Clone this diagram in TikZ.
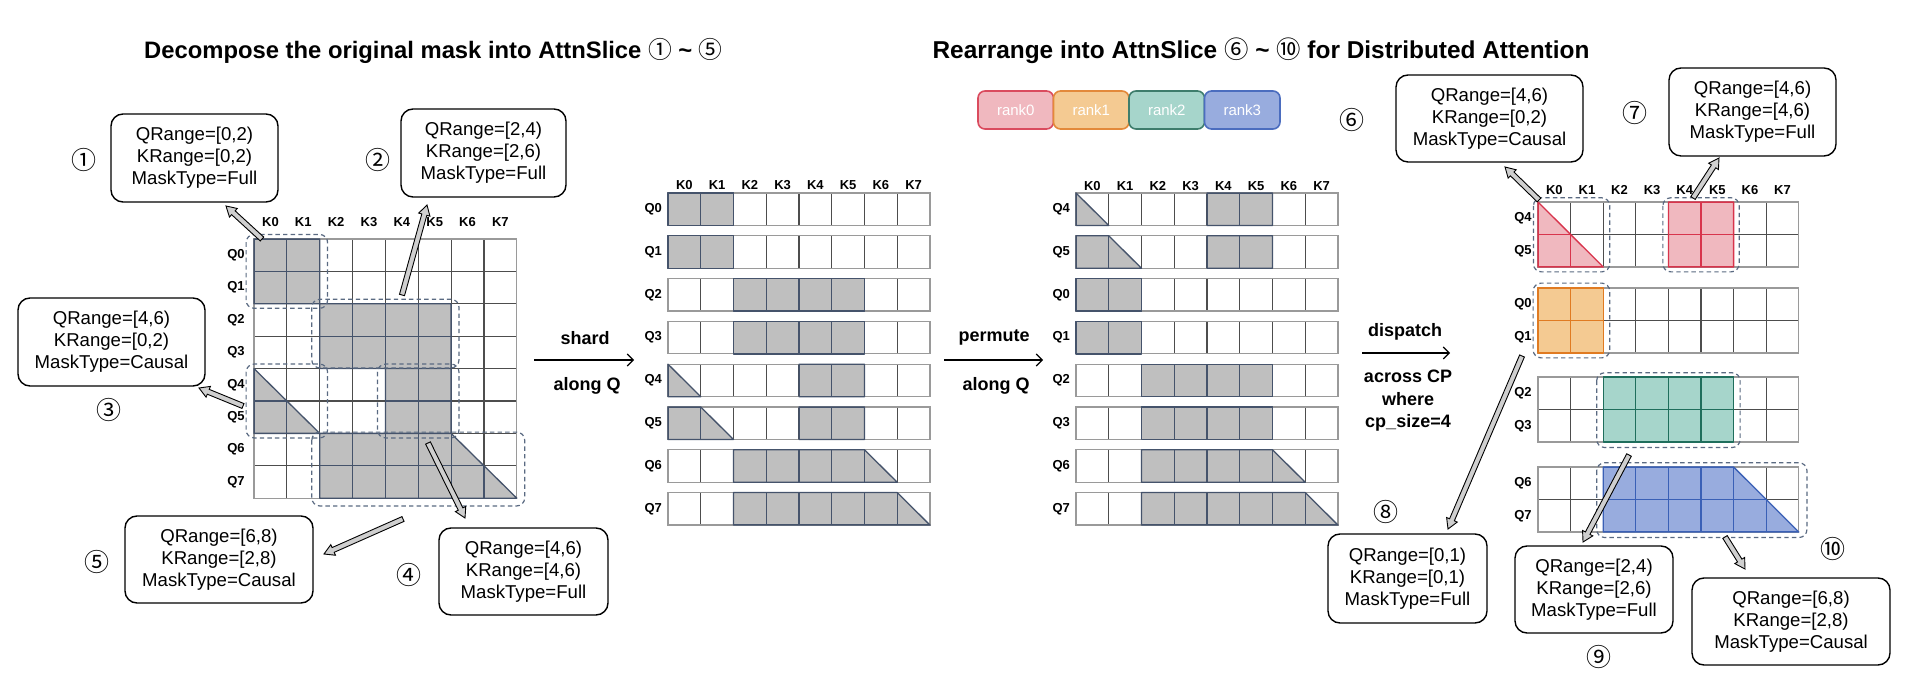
\documentclass[tikz,border=0pt]{standalone}
\usepackage{fontspec}
\setmainfont{Liberation Sans}
\newfontfamily\circfont{Noto Sans CJK SC}
\usetikzlibrary{calc,arrows.meta}

\definecolor{cellgray}{HTML}{BFBFBF}
\definecolor{slate}{HTML}{45536B}
\definecolor{gline}{HTML}{4D4D4D}
\definecolor{gout}{HTML}{9A9A9A}
\definecolor{dashc}{HTML}{5A6A82}
\definecolor{arrf}{HTML}{CFCFCF}
\definecolor{r0f}{HTML}{F0B8BF}\definecolor{r0l}{HTML}{D8344C}\definecolor{r0b}{HTML}{DA4B5E}
\definecolor{r1f}{HTML}{F4CA92}\definecolor{r1l}{HTML}{E07B22}\definecolor{r1b}{HTML}{E3893A}
\definecolor{r2f}{HTML}{A6D5CB}\definecolor{r2l}{HTML}{1F6E5C}\definecolor{r2b}{HTML}{3E7D6C}
\definecolor{r3f}{HTML}{98ACDE}\definecolor{r3l}{HTML}{3A60B6}\definecolor{r3b}{HTML}{4B6DBF}

\tikzset{
  info/.style={draw=black, line width=0.7pt, rounded corners=6pt, align=center, inner sep=0pt, font=\fontsize{9.3}{11}\selectfont},
  circnum/.style={inner sep=0pt, font=\circfont\fontsize{12.5}{14}\selectfont},
  axlab/.style={inner sep=0pt, font=\bfseries\fontsize{6.5}{7}\selectfont},
  ttl/.style={inner sep=0pt, font=\bfseries\fontsize{12.2}{14}\selectfont},
  optxt/.style={inner sep=0pt, align=center, font=\bfseries\fontsize{9}{11.25}\selectfont},
  innerline/.style={draw=gline, line width=0.55pt},
  outerline/.style={draw=gout, line width=0.6pt},
  slicebox/.style={draw=dashc, line width=0.6pt, dash pattern=on 2.2pt off 1.6pt, rounded corners=4pt},
  fatarrow/.style={draw=black, fill=arrf, line width=0.45pt, line join=miter},
  oparrow/.style={draw=black, line width=0.55pt, -{Straight Barb[length=3pt,width=6pt]}},
  rankbox/.style 2 args={fill=#1, draw=#2, line width=0.8pt, rounded corners=3.5pt, minimum width=37.75pt, minimum height=19pt, inner sep=0pt, text=white, font=\fontsize{7.5}{9}\selectfont},
}

% fill a masked region (cell units) and recolour the grid lines inside it
\newcommand\maskfill[5]{%
  \fill[#1] #5;
  \begin{scope}
    \clip #5;
    \foreach \i in {0,...,#3} \draw[draw=#2, line width=0.6pt] (\i,0) -- (\i,#4);
    \foreach \j in {0,...,#4} \draw[draw=#2, line width=0.6pt] (0,\j) -- (#3,\j);
  \end{scope}
  \draw[draw=#2, line width=0.65pt, line join=round] #5;
}

% hollow fat arrow from #1 to #2
\newcommand\fatarr[2]{%
  \coordinate (fa-h) at ($(#2)!5pt!(#1)$);
  \filldraw[fatarrow] ($(#1)!1.3pt!90:(#2)$) -- ($(fa-h)!1.3pt!-90:(#1)$) -- ($(fa-h)!2.9pt!-90:(#1)$) -- (#2) -- ($(fa-h)!2.9pt!90:(#1)$) -- ($(fa-h)!1.3pt!90:(#1)$) -- ($(#1)!1.3pt!-90:(#2)$) -- cycle;
}

% one row of the sharded mask
\newcommand\midrow[5]{%
  \begin{scope}[shift={(#1,#2)}, x=16.375pt, y=-16.25pt]
    \fill[white] (0,0) rectangle (8,1);
    \foreach \i in {1,...,7} \draw[innerline] (\i,0) -- (\i,1);
    \draw[outerline] (0,0) rectangle (8,1);
    \maskfill{cellgray}{slate}{8}{1}{#5}
    \node[axlab] (#3) at (-0.45,0.5) {#4};
  \end{scope}}

% two-row group of one rank
\newcommand\rankgroup[8]{%
  \begin{scope}[shift={(1538,#1)}, x=16.3pt, y=-16.25pt]
    \fill[white] (0,0) rectangle (8,2);
    \foreach \i in {1,...,7} \draw[innerline] (\i,0) -- (\i,2);
    \draw[innerline] (0,1) -- (8,1);
    \draw[outerline] (0,0) rectangle (8,2);
    \maskfill{#5}{#6}{8}{2}{#7}
    \node[axlab] (#2a) at (-0.46,0.5) {#3};
    \node[axlab] (#2b) at (-0.46,1.5) {#4};
    #8
  \end{scope}}

\def\rqA{(0,0) rectangle (2,1)}
\def\rqB{(2,0) rectangle (6,1)}
\def\rqC{(0,0) -- (1,1) -- (0,1) -- cycle (4,0) rectangle (6,1)}
\def\rqD{(0,0) -- (1,0) -- (2,1) -- (0,1) -- cycle (4,0) rectangle (6,1)}
\def\rqE{(2,0) -- (6,0) -- (7,1) -- (2,1) -- cycle}
\def\rqF{(2,0) -- (7,0) -- (8,1) -- (2,1) -- cycle}

\begin{document}
\begin{tikzpicture}[x=0.5pt, y=-0.5pt]
\useasboundingbox (0,0) rectangle (1920,688);
\fill[white] (0,0) rectangle (1920,688);

% titles
\node[ttl, font=\bfseries\fontsize{11.9}{14}\selectfont] (t1) at (433.5,51) {Decompose the original mask into AttnSlice {\circfont\mdseries ①} \textasciitilde{} {\circfont\mdseries ⑤}};
\node[ttl] (t2) at (1261,51) {Rearrange into AttnSlice {\circfont\mdseries ⑥} \textasciitilde{} {\circfont\mdseries ⑩} for Distributed Attention};

% ---------------- left: original mask ----------------
\begin{scope}[shift={(254,239)}, x=16.425pt, y=-16.2pt]
  \fill[white] (0,0) rectangle (8,8);
  \foreach \i in {1,...,7} {\draw[innerline] (\i,0) -- (\i,8); \draw[innerline] (0,\i) -- (8,\i);}
  \draw[outerline] (0,0) rectangle (8,8);
  \maskfill{cellgray}{slate}{8}{8}{(0,0) rectangle (2,2) (2,2) rectangle (6,4) (0,4) -- (2,6) -- (0,6) -- cycle (4,4) rectangle (6,6) (2,6) -- (6,6) -- (8,8) -- (2,8) -- cycle}
  \foreach \i in {0,...,7} {
    \node[axlab] (LK\i) at (\i+0.5,-0.52) {K\i};
    \node[axlab] (LQ\i) at (-0.55,\i+0.5) {Q\i};
  }
  \draw[slicebox] (-0.24,-0.14) rectangle (2.24,2.14);
  \draw[slicebox] (1.76,1.86) rectangle (6.24,3.98);
  \draw[slicebox] (-0.24,3.86) rectangle (2.24,6.14);
  \draw[slicebox] (3.76,3.86) rectangle (6.24,6.14);
  \draw[slicebox] (1.76,5.96) rectangle (8.24,8.24);
\end{scope}

\node[info, minimum width=83.5pt, minimum height=44pt] (b1) at (194.5,158) {QRange=[0,2)\\KRange=[0,2)\\MaskType=Full};
\node[info, minimum width=82.5pt, minimum height=44pt] (b2) at (483.5,153) {QRange=[2,4)\\KRange=[2,6)\\MaskType=Full};
\node[info, minimum width=93.5pt, minimum height=44pt] (b3) at (111.5,342) {QRange=[4,6)\\KRange=[0,2)\\MaskType=Causal};
\node[info, minimum width=84.5pt, minimum height=43.5pt] (b4) at (523.5,571.5) {QRange=[4,6)\\KRange=[4,6)\\MaskType=Full};
\node[info, minimum width=94pt, minimum height=43.5pt] (b5) at (219,559.5) {QRange=[6,8)\\KRange=[2,8)\\MaskType=Causal};

\node[circnum] (n1) at (84,160) {①};
\node[circnum] (n2) at (378,160) {②};
\node[circnum] (n3) at (109,410) {③};
\node[circnum] (n4) at (409,575) {④};
\node[circnum] (n5) at (97,562) {⑤};

\coordinate (a1s) at (262,239); \coordinate (a1e) at (226,206);
\coordinate (a2s) at (402,295); \coordinate (a2e) at (427,205);
\coordinate (a3s) at (243,406); \coordinate (a3e) at (199,388);
\coordinate (a4s) at (428,443); \coordinate (a4e) at (465,518);
\coordinate (a5s) at (403,519); \coordinate (a5e) at (324,554);
\fatarr{a1s}{a1e}
\fatarr{a2s}{a2e}
\fatarr{a3s}{a3e}
\fatarr{a4s}{a4e}
\fatarr{a5s}{a5e}

% ---------------- shard ----------------
\coordinate (sh1) at (534,360); \coordinate (sh2) at (634,360);
\draw[oparrow] (sh1) -- (sh2);
\node[optxt] (shT) at (585,338) {shard};
\node[optxt] (shB) at (587,386) {along Q};

\foreach \i in {0,...,7} \node[axlab] (mak\i) at ({668+32.75*(\i+0.5)},185) {K\i};
\midrow{668}{193}{ma0}{Q0}{\rqA}
\midrow{668}{235.8}{ma1}{Q1}{\rqA}
\midrow{668}{278.6}{ma2}{Q2}{\rqB}
\midrow{668}{321.4}{ma3}{Q3}{\rqB}
\midrow{668}{364.2}{ma4}{Q4}{\rqC}
\midrow{668}{407}{ma5}{Q5}{\rqD}
\midrow{668}{449.8}{ma6}{Q6}{\rqE}
\midrow{668}{492.6}{ma7}{Q7}{\rqF}

% ---------------- permute ----------------
\coordinate (pm1) at (944,360); \coordinate (pm2) at (1043,360);
\draw[oparrow] (pm1) -- (pm2);
\node[optxt] (pmT) at (994,338) {permute};
\node[optxt] (pmB) at (996,386) {along Q};

\foreach \i in {0,...,7} \node[axlab] (mbk\i) at ({1076+32.75*(\i+0.5)},186) {K\i};
\midrow{1076}{193}{mb0}{Q4}{\rqC}
\midrow{1076}{235.8}{mb1}{Q5}{\rqD}
\midrow{1076}{278.6}{mb2}{Q0}{\rqA}
\midrow{1076}{321.4}{mb3}{Q1}{\rqA}
\midrow{1076}{364.2}{mb4}{Q2}{\rqB}
\midrow{1076}{407}{mb5}{Q3}{\rqB}
\midrow{1076}{449.8}{mb6}{Q6}{\rqE}
\midrow{1076}{492.6}{mb7}{Q7}{\rqF}

% ---------------- rank legend ----------------
\node[rankbox={r0f}{r0b}] (rank0) at (1015.75,110) {rank0};
\node[rankbox={r1f}{r1b}] (rank1) at (1091.25,110) {rank1};
\node[rankbox={r2f}{r2b}] (rank2) at (1166.75,110) {rank2};
\node[rankbox={r3f}{r3b}] (rank3) at (1242.25,110) {rank3};

% ---------------- dispatch ----------------
\coordinate (dp1) at (1362,353); \coordinate (dp2) at (1450,353);
\draw[oparrow] (dp1) -- (dp2);
\node[optxt] (dpT) at (1405,332) {dispatch};
\node[optxt] (dpB) at (1408,401) {across CP\\where\\cp\_size=4};

\rankgroup{202}{ra}{Q4}{Q5}{r0f}{r0l}{(0,0) -- (2,2) -- (0,2) -- cycle (4,0) rectangle (6,2)}{%
  \foreach \i in {0,...,7} \node[axlab] (rk\i) at (\i+0.5,-0.37) {K\i};
  \draw[slicebox] (-0.14,-0.13) rectangle (2.2,2.15);
  \draw[slicebox] (3.83,-0.13) rectangle (6.17,2.15);}
\rankgroup{288}{rb}{Q0}{Q1}{r1f}{r1l}{(0,0) rectangle (2,2)}{%
  \draw[slicebox] (-0.15,-0.15) rectangle (2.2,2.15);}
\rankgroup{377}{rc}{Q2}{Q3}{r2f}{r2l}{(2,0) rectangle (6,2)}{%
  \draw[slicebox] (1.8,-0.13) rectangle (6.2,2.17);}
\rankgroup{467}{rd}{Q6}{Q7}{r3f}{r3l}{(2,0) -- (6,0) -- (8,2) -- (2,2) -- cycle}{%
  \draw[slicebox] (1.8,-0.13) rectangle (8.25,2.17);}

\node[info, minimum width=93.5pt, minimum height=43.5pt] (b6) at (1489.5,118.5) {QRange=[4,6)\\KRange=[0,2)\\MaskType=Causal};
\node[info, minimum width=83.5pt, minimum height=44pt] (b7) at (1752.5,112) {QRange=[4,6)\\KRange=[4,6)\\MaskType=Full};
\node[info, minimum width=79.5pt, minimum height=44.5pt] (b8) at (1407.5,578.5) {QRange=[0,1)\\KRange=[0,1)\\MaskType=Full};
\node[info, minimum width=79pt, minimum height=43.5pt] (b9) at (1594,589.5) {QRange=[2,4)\\KRange=[2,6)\\MaskType=Full};
\node[info, minimum width=99pt, minimum height=43.5pt] (b10) at (1791,621.5) {QRange=[6,8)\\KRange=[2,8)\\MaskType=Causal};

\node[circnum] (n6) at (1352,120) {⑥};
\node[circnum] (n7) at (1635,113) {⑦};
\node[circnum] (n8) at (1386,512) {⑧};
\node[circnum] (n9) at (1599,657) {⑨};
\node[circnum] (n10) at (1833,549) {⑩};

\coordinate (a6s) at (1539,200); \coordinate (a6e) at (1505,167);
\coordinate (a7s) at (1693,198); \coordinate (a7e) at (1719,158);
\coordinate (a8s) at (1522,356); \coordinate (a8e) at (1448,529);
\coordinate (a9s) at (1629,455); \coordinate (a9e) at (1583,542);
\coordinate (a10s) at (1725,537); \coordinate (a10e) at (1745,569);
\fatarr{a6s}{a6e}
\fatarr{a7s}{a7e}
\fatarr{a8s}{a8e}
\fatarr{a9s}{a9e}
\fatarr{a10s}{a10e}
\end{tikzpicture}
\end{document}
